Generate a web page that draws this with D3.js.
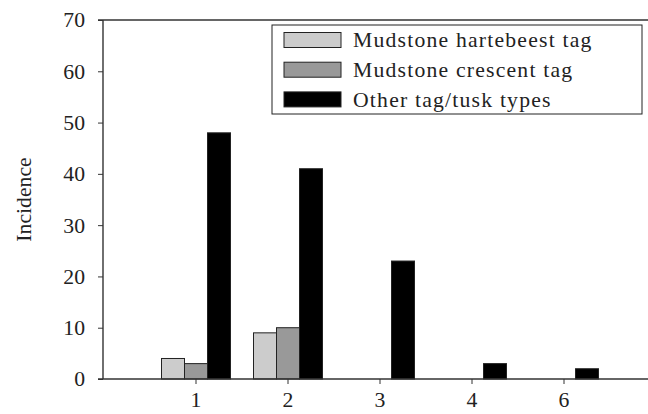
<!DOCTYPE html>
<html>
<head>
<meta charset="utf-8">
<script src="https://cdn.jsdelivr.net/npm/d3@7"></script>
<style>
  body { margin: 0; background: #fff; }
  svg text { font-family: "Liberation Serif", serif; fill: #222; }
</style>
</head>
<body>
<div id="chart"></div>
<script>
var categories = ["1", "2", "3", "4", "6"];
var seriesNames = ["Mudstone hartebeest tag", "Mudstone crescent tag", "Other tag/tusk types"];
var hartebeest = [4, 9, 0, 0, 0];
var crescent = [3, 10, 0, 0, 0];
var other = [48, 41, 23, 3, 2];
var yTicks = [0, 10, 20, 30, 40, 50, 60, 70];
var colors = ["#cccccc", "#999999", "#000000"];

var width = 648;
var height = 414;

var svg = d3.select("#chart")
    .append("svg")
    .attr("width", width)
    .attr("height", height);

var plotLeft = 103, plotRight = 648, plotTop = 20, plotBottom = 379;

var x = d3.scaleBand()
    .domain(categories)
    .range([138.5, 621.5])
    .padding(0.25);

var xs = d3.scaleBand()
    .domain(d3.range(seriesNames.length))
    .range([0, x.bandwidth()]);

var y = d3.scaleLinear()
    .domain([0, 70])
    .range([plotBottom, plotTop]);

var values = [hartebeest, crescent, other];

// bars
var groups = svg.selectAll("g.cat")
    .data(categories)
    .enter()
    .append("g")
    .attr("class", "cat")
    .attr("transform", d => "translate(" + x(d) + ",0)");

groups.selectAll("rect")
    .data((c, i) => values.map((v, s) => ({ s: s, v: v[i] })).filter(d => d.v > 0))
    .enter()
    .append("rect")
    .attr("x", d => xs(d.s))
    .attr("y", d => y(d.v))
    .attr("width", xs.bandwidth())
    .attr("height", d => y(0) - y(d.v))
    .attr("fill", d => colors[d.s])
    .attr("stroke", "#222")
    .attr("stroke-width", 1);

// top frame line runs to the right edge
svg.append("line")
    .attr("x1", plotLeft - 5).attr("x2", plotRight)
    .attr("y1", plotTop).attr("y2", plotTop)
    .attr("stroke", "#333").attr("stroke-width", 1.4);

var yAxis = svg.append("g")
    .attr("transform", "translate(" + plotLeft + ",0)")
    .call(d3.axisLeft(y).tickValues(yTicks).tickSize(5).tickPadding(13));
yAxis.select(".domain").attr("stroke", "#333").attr("stroke-width", 1.4)
    .attr("d", "M0," + plotBottom + "V" + plotTop);
yAxis.selectAll(".tick line").attr("stroke", "#333");
yAxis.selectAll(".tick text")
    .style("font-size", "21.7px")
    .attr("fill", "#222");

var xAxis = svg.append("g")
    .attr("transform", "translate(0," + plotBottom + ")")
    .call(d3.axisBottom(x).tickSize(5).tickPadding(8));
xAxis.select(".domain").attr("stroke", "#333").attr("stroke-width", 1.4)
    .attr("d", "M" + (plotLeft - 5) + ",0H" + plotRight);
xAxis.selectAll(".tick line").attr("stroke", "#333");
xAxis.selectAll(".tick text")
    .style("font-size", "21.7px")
    .attr("fill", "#222");

// y label
svg.append("text")
    .attr("transform", "translate(31," + ((plotTop + plotBottom) / 2) + ") rotate(-90)")
    .attr("text-anchor", "middle")
    .style("font-size", "21.7px")
    .text("Incidence");

// legend
var legend = svg.append("g");
legend.append("rect")
    .attr("x", 272).attr("y", 25)
    .attr("width", 370).attr("height", 89)
    .attr("fill", "#fff")
    .attr("stroke", "#222")
    .attr("stroke-width", 1);

var rows = legend.selectAll("g.row")
    .data(seriesNames)
    .enter()
    .append("g")
    .attr("class", "row")
    .attr("transform", (d, i) => "translate(0," + (40 + i * 29.7) + ")");

rows.append("rect")
    .attr("x", 284).attr("y", -7.5)
    .attr("width", 57).attr("height", 15)
    .attr("fill", (d, i) => colors[i])
    .attr("stroke", "#222")
    .attr("stroke-width", 1);

rows.append("text")
    .attr("x", 353)
    .attr("dy", "0.33em")
    .style("font-size", "21.7px")
    .style("letter-spacing", "1.2px")
    .text(d => d);
</script>
</body>
</html>
